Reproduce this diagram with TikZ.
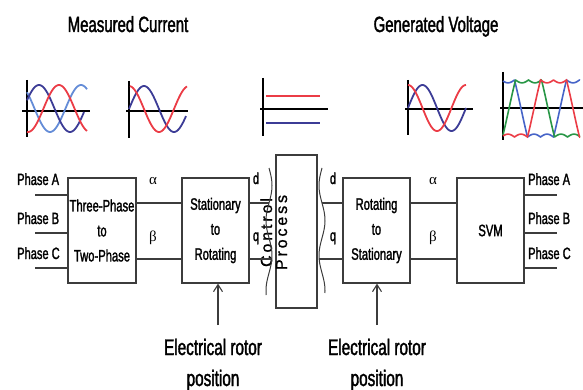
\documentclass[tikz,border=0pt]{standalone}
\usepackage{fontspec}
\setmainfont{Liberation Sans}
\newfontfamily\cf{Liberation Sans}[FakeStretch=0.68,FakeBold=1.6]
\newfontfamily\gf{Liberation Serif}
\newfontfamily\lsf{Liberation Sans}[LetterSpace=18,FakeBold=1.2]
\usetikzlibrary{arrows.meta}
\definecolor{linec}{RGB}{60,60,60}
\definecolor{wred}{RGB}{235,60,70}
\definecolor{dblue}{RGB}{60,60,150}
\definecolor{lblue}{RGB}{100,140,215}
\definecolor{mblue}{RGB}{70,100,200}
\definecolor{wgreen}{RGB}{40,150,70}
\begin{document}
\begin{tikzpicture}[x=1pt,y=-1pt,
  declare function={sv(\t)=max(-1,min(1,2*sin(\t)))*(1-0.1*abs(cos(3*\t))*(abs(sin(\t))>0.5));},
  ln/.style={draw=linec,line width=1.3pt},
  axis/.style={draw=black,line width=2.2pt},
  wave/.style={line width=1.8pt,smooth},
  box/.style={draw=linec,line width=1.3pt,font=\cf\fontsize{16.5}{25}\selectfont,align=center,inner sep=0pt},
  hdr/.style={font=\cf\fontsize{22}{26}\selectfont,anchor=base},
  phl/.style={font=\cf\fontsize{16.3}{20}\selectfont,anchor=base west,inner sep=0pt},
  sml/.style={font=\cf\fontsize{16}{20}\selectfont,anchor=base,inner sep=0pt},
  grk/.style={font=\gf\fontsize{15}{18}\selectfont,anchor=base,inner sep=0pt},
  ctl/.style={font=\lsf\fontsize{16}{20}\selectfont,anchor=base,rotate=90,inner sep=0pt},
  erp/.style={font=\cf\fontsize{22.5}{28}\selectfont,anchor=base,inner sep=0pt},
  arr/.style={draw=linec,line width=1.1pt,-{Straight Barb[length=7pt,width=9pt]}}
]
\useasboundingbox (0,0) rectangle (583,390);

% headers
\node[hdr] (h1) at (128,32) {Measured Current};
\node[hdr] (h2) at (436,32) {Generated Voltage};

% chart 1: three-phase currents
\draw[axis] (27,80) -- (27,137);
\draw[axis] (22,111) -- (90,111);
\draw[wave,lblue] plot[domain=27:87,samples=60] (\x,{108.5-23.5*cos((\x-81)*5.806)});
\draw[wave,dblue] plot[domain=27:84,samples=60] (\x,{108.5-23.5*cos((\x-39)*5.806)});
\draw[wave,wred] plot[domain=27:87,samples=60] (\x,{108.5-23.5*cos((\x-59)*5.806)});

% chart 2: two-phase
\draw[axis] (129,81) -- (129,138);
\draw[axis] (126,111) -- (188,111);
\draw[wave,dblue] plot[domain=129:186,samples=60] (\x,{109-23*sin((\x-129)*6)});
\draw[wave,wred] plot[domain=130:187,samples=60] (\x,{109-23*cos((\x-129)*6)});

% chart 3: dc d/q
\draw[axis] (263,78) -- (263,136);
\draw[axis] (260,109) -- (328,109);
\draw[line width=1.8pt,wred] (266,96) -- (320,96);
\draw[line width=1.8pt,dblue] (266,123) -- (320,123);

% chart 4: two-phase voltage
\draw[axis] (408,80) -- (408,135);
\draw[axis] (405,109) -- (473,109);
\draw[wave,dblue] plot[domain=408:466,samples=60] (\x,{108-23*sin((\x-408)*6.207)});
\draw[wave,wred] plot[domain=408:466,samples=60] (\x,{108-23*cos((\x-408)*6.207)});

% chart 5: SVM voltages
\draw[axis] (503,72) -- (503,140);
\draw[axis] (500,108) -- (583,108);
\draw[line width=1.6pt,mblue] plot[domain=503:580,samples=200] (\x,{108.5-28.5*sv((\x-482)*4.615)});
\draw[line width=1.6pt,wgreen] plot[domain=503:580,samples=200] (\x,{108.5-28.5*sv((\x-509)*4.615)});
\draw[line width=1.6pt,wred] plot[domain=503:580,samples=200] (\x,{108.5-28.5*sv((\x-534)*4.615)});

% blocks
\node[box,minimum width=68pt,minimum height=105pt] (tp) at (102,230.5) {Three-Phase\\to\\Two-Phase};
\node[box,minimum width=67pt,minimum height=105pt] (sr) at (215.5,230.5) {Stationary\\to\\Rotating};
\node[box,minimum width=41pt,minimum height=153pt] (cp) at (296.5,231.5) {};
\node[box,minimum width=67pt,minimum height=105pt] (rs) at (376.5,230.5) {Rotating\\to\\Stationary};
\node[box,minimum width=67pt,minimum height=105pt] (svm) at (490.5,230.5) {SVM};

% control process text
\node[ctl] (ct1) at (272,232.5) {Control};
\node[ctl] (ct2) at (287,232.5) {Process};

% wavy break lines
\draw[ln,line width=1pt] plot[domain=168:295,samples=60,smooth] ({269+3*sin((\x-168)*5.143)},\x);
\draw[ln,line width=1pt] plot[domain=168:293,samples=60,smooth] ({322-3*sin((\x-168)*5.143)},\x);

% phase inputs
\node[phl] (pa) at (17,185) {Phase A};
\node[phl] (pb) at (17,224) {Phase B};
\node[phl] (pc) at (17,259) {Phase C};
\coordinate (ia) at (35,195);
\coordinate (ib) at (35,233);
\coordinate (ic) at (35,268);
\draw[ln] (ia) -- (ia -| tp.west);
\draw[ln] (ib) -- (ib -| tp.west);
\draw[ln] (ic) -- (ic -| tp.west);

% phase outputs
\node[phl] (qa) at (528,185) {Phase A};
\node[phl] (qb) at (528,224) {Phase B};
\node[phl] (qc) at (528,259) {Phase C};
\coordinate (oa) at (557,195);
\coordinate (ob) at (557,233);
\coordinate (oc) at (557,268);
\draw[ln] (svm.east |- oa) -- (oa);
\draw[ln] (svm.east |- ob) -- (ob);
\draw[ln] (svm.east |- oc) -- (oc);

% alpha/beta and d/q links
\coordinate (ya) at (0,203);
\coordinate (yb) at (0,259);
\draw[ln] (tp.east |- ya) -- (sr.west |- ya);
\draw[ln] (tp.east |- yb) -- (sr.west |- yb);
\draw[ln] (rs.east |- ya) -- (svm.west |- ya);
\draw[ln] (rs.east |- yb) -- (svm.west |- yb);
\coordinate (wl1) at (269,203);
\coordinate (wl2) at (272,259);
\coordinate (wr1) at (322,203);
\coordinate (wr2) at (319,259);
\draw[ln] (sr.east |- wl1) -- (wl1);
\draw[ln] (sr.east |- wl2) -- (wl2);
\draw[ln] (wr1) -- (wr1 -| rs.west);
\draw[ln] (wr2) -- (wr2 -| rs.west);

\node[grk] (al1) at (153,185) {α};
\node[grk] (be1) at (153,241) {β};
\node[grk] (al2) at (433,185) {α};
\node[grk] (be2) at (433,241) {β};
\node[sml] (d1) at (256,184) {d};
\node[sml] (q1) at (256,241) {q};
\node[sml] (d2) at (333,184) {d};
\node[sml] (q2) at (333,241) {q};

% rotor position inputs
\node[erp] (e1) at (213,355) {Electrical rotor};
\node[erp] (e1b) at (213,386) {position};
\node[erp] (e2) at (377,355) {Electrical rotor};
\node[erp] (e2b) at (377,386) {position};
\coordinate (a1) at (218,325);
\coordinate (a2) at (377,325);
\draw[arr] (a1) -- (a1 |- sr.south);
\draw[arr] (a2) -- (a2 |- rs.south);
\end{tikzpicture}
\end{document}
